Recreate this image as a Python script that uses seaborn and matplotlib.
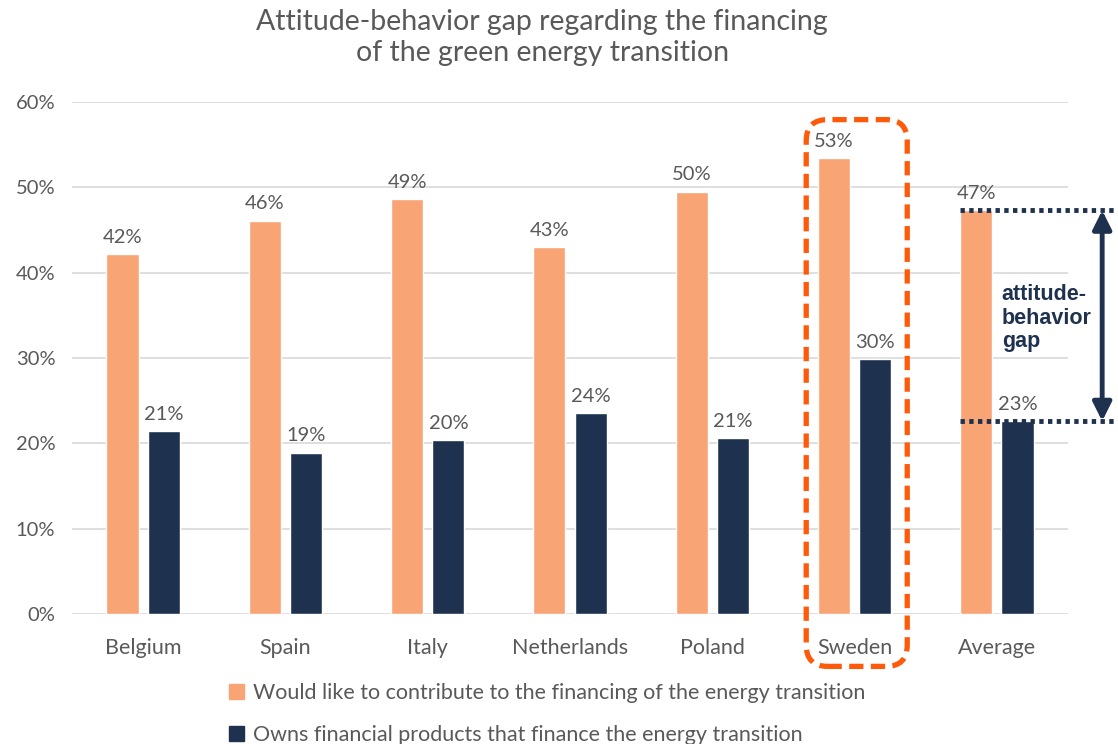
import pandas as pd
import numpy as np
import seaborn as sns
import matplotlib.pyplot as plt
from matplotlib.patches import FancyBboxPatch, Patch
from matplotlib.ticker import FuncFormatter

countries = ['Belgium', 'Spain', 'Italy', 'Netherlands', 'Poland', 'Sweden', 'Average']
would_like = [42.2, 46.1, 48.6, 43.0, 49.5, 53.4, 47.3]
owns = [21.4, 18.9, 20.4, 23.5, 20.6, 29.9, 22.6]
series = ['Would like to contribute to the financing of the energy transition',
          'Owns financial products that finance the energy transition']

ORANGE = '#F9A475'
NAVY = '#1E324F'
GREY = '#595959'
RED = '#FF5A0A'

df = pd.DataFrame({'country': countries * 2,
                   'value': would_like + owns,
                   'series': [series[0]] * len(countries) + [series[1]] * len(countries)})

sns.set_theme(style='white')
plt.rcParams['font.family'] = ['Lato', 'DejaVu Sans']

fig = plt.figure(figsize=(11.18, 7.44), dpi=100)
ax = fig.add_axes([0.0644, 0.1747, 0.8909, 0.6882])

sns.barplot(data=df, x='country', y='value', hue='series', order=countries,
            hue_order=series, palette=[ORANGE, NAVY], width=0.58, gap=0.22,
            saturation=1, legend=False, ax=ax)

ax.set_ylim(0, 60)
ax.set_xlim(-0.5, len(countries) - 0.5)
ax.set_yticks(range(0, 61, 10))
ax.yaxis.set_major_formatter(FuncFormatter(lambda v, p: f'{v:.0f}%'))
ax.grid(axis='y', color='#D9D9D9', lw=1.2)
ax.set_axisbelow(True)
sns.despine(ax=ax, left=True, bottom=True)
ax.set_xlabel('')
ax.set_ylabel('')
ax.tick_params(axis='both', length=0, labelsize=14.5, labelcolor=GREY)
ax.tick_params(axis='x', pad=17, labelsize=15.5)
ax.tick_params(axis='y', pad=12)

for c in ax.containers:
    ax.bar_label(c, labels=[f'{v:.0f}%' for v in c.datavalues], padding=6,
                 fontsize=14.5, color=GREY)

fig.suptitle('Attitude-behavior gap regarding the financing\nof the green energy transition',
             x=0.485, y=0.988, fontsize=20.5, color=GREY, linespacing=1.25)

# dashed box around Sweden
i = countries.index('Sweden')
box = FancyBboxPatch((i - 0.26, -4.8), 0.55, 61.4,
                     boxstyle='round,pad=0.08,rounding_size=0.15',
                     mutation_aspect=16.7, fill=False, ec=RED, lw=3.8,
                     ls=(0, (2.7, 1.4)), clip_on=False, zorder=5)
ax.add_patch(box)

# attitude-behavior gap on the average
j = countries.index('Average')
hi, lo = would_like[j], owns[j]
for yv in (hi, lo):
    ax.plot([j - 0.26, j + 0.86], [yv, yv], color=NAVY, lw=3.5,
            ls=(0, (0.9, 0.9)), clip_on=False, zorder=6)
ax.annotate('', xy=(j + 0.74, lo), xytext=(j + 0.74, hi),
            arrowprops=dict(arrowstyle='<|-|>', color=NAVY, lw=3.5,
                            mutation_scale=28, shrinkA=0, shrinkB=0),
            annotation_clip=False, zorder=6)
ax.text(j + 0.035, (hi + lo) / 2 - 0.3, 'attitude-\nbehavior\ngap', color=NAVY,
        fontsize=15.5, fontweight='bold', va='center', ha='left',
        linespacing=1.15, family=['Liberation Sans', 'DejaVu Sans'])

handles = [Patch(color=ORANGE), Patch(color=NAVY)]
fig.legend(handles, series, loc='upper left', bbox_to_anchor=(0.197, 0.093),
           frameon=False, fontsize=15.5, labelcolor=GREY, handlelength=0.7,
           handleheight=0.7, handletextpad=0.4, labelspacing=1.0,
           borderaxespad=0)

fig.savefig('out.png', dpi=100)
